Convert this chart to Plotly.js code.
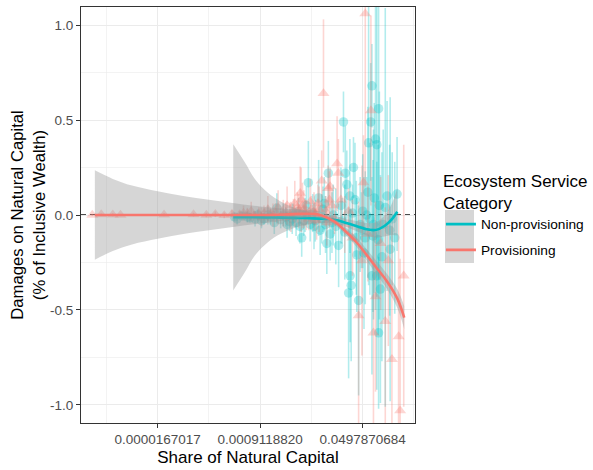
<!DOCTYPE html>
<html><head><meta charset="utf-8">
<script src="https://cdn.plot.ly/plotly-3.0.1.min.js"></script>
<style>html,body{margin:0;padding:0;background:#fff}#chart{width:593px;height:470px}</style>
</head><body><div id="chart"></div>
<script>
// x values are ln(share of natural capital)
var xTickVals = [-11, -7, -3];
var xTickText = ['0.0000167017', '0.0009118820', '0.0497870684'];
var yTickVals = [-1, -0.5, 0, 0.5, 1];
var yTickText = ['-1.0', '-0.5', '0.0', '0.5', '1.0'];
var seriesNames = ['Non-provisioning', 'Provisioning'];

// Non-provisioning observations
var xN = [-8.0,-7.9,-7.7,-7.5,-7.4,-7.2,-7.1,-6.95,-6.85,-6.7,-6.6,-6.45,-6.35,-6.2,-6.1,-6.0,-5.95,-5.85,-5.75,-5.7,-5.6,-5.5,-5.45,-5.38,-5.3,-5.25,-5.2,-5.12,-5.05,-4.95,-4.9,-4.85,-4.72,-4.66,-4.6,-4.55,-4.5,-4.45,-4.4,-4.34,-4.27,-4.2,-4.15,-4.05,-3.94,-3.85,-3.8,-3.75,-3.7,-3.68,-3.62,-3.55,-3.5,-3.49,-3.45,-3.4,-3.36,-3.3,-3.25,-3.23,-3.16,-3.1,-3.05,-3.0,-2.95,-2.9,-2.85,-2.8,-2.77,-2.72,-2.69,-2.64,-2.64,-2.6,-2.58,-2.55,-2.5,-2.45,-2.45,-2.4,-2.38,-2.38,-2.35,-2.31,-2.25,-2.2,-2.12,-2.05,-1.95,-1.93,-1.85,-1.75,-1.66];
var yN = [-0.01,-0.02,-0.005,-0.01,-0.015,-0.02,0.0,-0.03,-0.02,0.0,-0.01,-0.04,0.035,-0.025,0.0,-0.01,-0.05,-0.035,-0.02,0.0,-0.04,0.02,-0.06,-0.12,-0.03,0.0,0.05,0.17,-0.05,0.01,-0.06,-0.03,0.09,-0.08,-0.02,0.03,0.06,-0.05,-0.15,0.22,-0.1,-0.04,0.0,-0.06,-0.16,0.05,-0.03,0.49,-0.09,0.22,0.16,-0.41,0.1,-0.32,-0.37,0.01,0.25,0.08,-0.12,-0.21,-0.45,-0.05,-0.08,0.02,-0.2,-0.12,0.0,0.12,0.38,-0.02,0.49,0.68,-0.32,-0.11,-0.05,0.09,0.4,0.37,-0.32,-0.13,0.56,-0.62,0.05,-0.39,-0.22,-0.05,0.04,0.1,-0.08,-0.18,-0.02,-0.12,0.11];
var eN = [0.02,0.03,0.02,0.03,0.025,0.04,0.03,0.04,0.03,0.05,0.04,0.06,0.08,0.045,0.06,0.05,0.07,0.05,0.08,0.06,0.07,0.07,0.09,0.1,0.08,0.09,0.1,0.22,0.09,0.1,0.12,0.11,0.2,0.13,0.13,0.12,0.14,0.15,0.16,0.17,0.14,0.16,0.16,0.2,0.22,0.2,0.12,0.16,0.25,0.25,0.18,0.45,0.3,0.35,0.4,0.15,0.16,0.3,0.3,0.3,0.5,0.25,0.2,0.3,0.4,0.35,0.2,0.45,0.75,0.4,0.31,0.22,0.52,0.4,0.5,0.5,0.9,0.8,0.6,0.5,0.9,0.4,0.6,0.6,0.55,0.5,1.05,0.5,0.45,0.8,0.35,0.4,0.3];

// Provisioning observations
var xP = [-13.55,-13.2,-12.75,-12.45,-10.75,-9.6,-9.1,-8.75,-8.4,-8.1,-7.8,-7.65,-7.5,-7.35,-7.25,-7.05,-6.95,-6.85,-6.7,-6.6,-6.5,-6.4,-6.3,-6.2,-6.1,-6.0,-5.95,-5.85,-5.8,-5.7,-5.65,-5.55,-5.5,-5.44,-5.4,-5.35,-5.3,-5.25,-5.2,-5.1,-5.05,-5.0,-4.9,-4.85,-4.8,-4.75,-4.7,-4.6,-4.53,-4.45,-4.4,-4.35,-4.3,-4.27,-4.2,-4.1,-4.0,-3.95,-3.85,-3.7,-3.55,-3.4,-3.16,-3.03,-2.97,-2.9,-2.8,-2.68,-2.58,-2.5,-2.3,-2.12,-2.0,-1.86,-1.6,-1.54,-1.4];
var yP = [0.0,0.002,0.001,0.0,0.001,0.002,0.0,0.004,-0.002,0.005,0.002,0.01,0.008,0.02,-0.004,0.006,-0.01,0.01,0.03,0.002,0.0,0.012,0.04,-0.006,0.01,0.015,0.05,0.005,-0.01,0.025,0.06,0.04,0.02,0.115,0.08,0.05,0.03,0.012,0.0,-0.02,0.07,0.03,0.02,0.0,-0.03,0.06,0.03,0.18,0.64,0.02,-0.04,0.14,0.08,0.15,0.05,-0.02,0.27,0.22,0.08,-0.05,0.02,-0.12,-0.53,-0.24,0.17,1.06,-0.1,0.55,-0.62,-0.43,-0.15,-0.56,-0.24,-0.76,-0.64,-1.03,-0.32];
var eP = [0.006,0.006,0.008,0.006,0.008,0.01,0.012,0.015,0.015,0.02,0.02,0.04,0.03,0.05,0.025,0.035,0.05,0.04,0.07,0.03,0.06,0.05,0.09,0.04,0.07,0.05,0.1,0.06,0.08,0.06,0.12,0.08,0.09,0.14,0.17,0.12,0.1,0.07,0.08,0.06,0.12,0.07,0.1,0.05,0.1,0.1,0.12,0.16,0.39,0.08,0.12,0.12,0.15,0.1,0.09,0.08,0.25,0.18,0.12,0.15,0.12,0.2,0.6,0.5,0.25,0.91,0.25,0.5,0.55,0.5,0.35,0.6,0.45,0.7,0.65,0.8,0.69];

// Smoothed fits (loess) with standard-error half widths
var sxN = [-8.05,-7.6,-7.2,-6.7,-6.2,-5.7,-5.2,-4.5,-4.0,-3.6,-3.2,-2.85,-2.5,-2.15,-1.85,-1.65];
var syN = [-0.012,-0.012,-0.012,-0.013,-0.014,-0.015,-0.016,-0.02,-0.028,-0.044,-0.06,-0.075,-0.079,-0.058,-0.02,0.017];
var seN = [0.385,0.29,0.2,0.13,0.085,0.055,0.035,0.022,0.02,0.022,0.027,0.033,0.04,0.055,0.085,0.125];

var sxP = [-13.45,-12.75,-12.0,-11.0,-10.0,-9.0,-8.0,-7.0,-6.0,-5.4,-4.9,-4.6,-4.1,-3.6,-3.2,-2.85,-2.45,-2.05,-1.65,-1.38];
var syP = [0,0,0,0,0,0,0,0,0.003,0.006,0.006,-0.003,-0.035,-0.095,-0.15,-0.21,-0.28,-0.35,-0.44,-0.54];
var seP = [0.235,0.19,0.155,0.125,0.1,0.08,0.062,0.045,0.03,0.022,0.018,0.018,0.018,0.02,0.025,0.03,0.035,0.04,0.05,0.06];

var colN = '#00BFC4', colP = '#F8766D';
var colNa = 'rgba(0,191,196,0.3)', colPa = 'rgba(248,118,109,0.3)';
var ribbon = 'rgba(153,153,153,0.4)';

function add(a, b, s) { return a.map(function (v, i) { return v + s * b[i]; }); }

var traces = [
  {x: xN, y: yN, type: 'scatter', mode: 'markers', showlegend: false, hoverinfo: 'skip',
   marker: {symbol: 'circle', size: 9.5, color: colNa, line: {width: 0}},
   error_y: {type: 'data', array: eN, visible: true, color: colNa, thickness: 1.6, width: 0}},
  {x: xP, y: yP, type: 'scatter', mode: 'markers', showlegend: false, hoverinfo: 'skip',
   marker: {symbol: 'triangle-up', size: 10.5, color: colPa, line: {width: 0}},
   error_y: {type: 'data', array: eP, visible: true, color: colPa, thickness: 1.6, width: 0}},
  {x: sxN, y: add(syN, seN, 1), type: 'scatter', mode: 'lines', showlegend: false, hoverinfo: 'skip',
   line: {width: 0, shape: 'spline'}},
  {x: sxN, y: add(syN, seN, -1), type: 'scatter', mode: 'lines', showlegend: false, hoverinfo: 'skip',
   line: {width: 0, shape: 'spline'}, fill: 'tonexty', fillcolor: ribbon},
  {x: sxN, y: syN, type: 'scatter', mode: 'lines', name: seriesNames[0], legendgroup: 'a',
   line: {color: colN, width: 2.6, shape: 'spline'}},
  {x: sxP, y: add(syP, seP, 1), type: 'scatter', mode: 'lines', showlegend: false, hoverinfo: 'skip',
   line: {width: 0, shape: 'spline'}},
  {x: sxP, y: add(syP, seP, -1), type: 'scatter', mode: 'lines', showlegend: false, hoverinfo: 'skip',
   line: {width: 0, shape: 'spline'}, fill: 'tonexty', fillcolor: ribbon},
  {x: sxP, y: syP, type: 'scatter', mode: 'lines', name: seriesNames[1], legendgroup: 'b',
   line: {color: colP, width: 2.6, shape: 'spline'}}
];

var font = 'Liberation Sans, Arial, sans-serif';
var layout = {
  width: 593, height: 470,
  margin: {l: 81, r: 178, t: 7, b: 47, autoexpand: false},
  paper_bgcolor: '#fff', plot_bgcolor: '#fff',
  font: {family: font, color: '#000'},
  xaxis: {
    range: [-13.99, -0.96], tickmode: 'array', tickvals: xTickVals, ticktext: xTickText,
    showgrid: true, gridcolor: '#EBEBEB', gridwidth: 1, zeroline: false,
    minor: {tickmode: 'array', tickvals: [-13, -9, -5, -1], showgrid: true, gridcolor: '#EBEBEB', gridwidth: 0.6, ticks: ''},
    showline: true, mirror: true, linecolor: '#333333', linewidth: 1,
    ticks: 'outside', ticklen: 4, tickcolor: '#333333', tickwidth: 1,
    tickfont: {size: 13.5, color: '#4D4D4D'},
    title: {text: 'Share of Natural Capital', font: {size: 17, color: '#000'}, standoff: 4}
  },
  yaxis: {
    range: [-1.095, 1.095], tickmode: 'array', tickvals: yTickVals, ticktext: yTickText,
    showgrid: true, gridcolor: '#EBEBEB', gridwidth: 1, zeroline: false,
    minor: {tickmode: 'array', tickvals: [-0.75, -0.25, 0.25, 0.75], showgrid: true, gridcolor: '#EBEBEB', gridwidth: 0.6, ticks: ''},
    showline: true, mirror: true, linecolor: '#333333', linewidth: 1,
    ticks: 'outside', ticklen: 4, tickcolor: '#333333', tickwidth: 1,
    tickfont: {size: 13.5, color: '#4D4D4D'},
    title: {text: 'Damages on Natural Capital<br>(% of Inclusive Wealth)', font: {size: 16.7, color: '#000'}, standoff: 0}
  },
  shapes: [
    {type: 'line', xref: 'paper', yref: 'y', x0: 0, x1: 1, y0: 0, y1: 0, layer: 'below',
     line: {color: '#111', width: 1.4, dash: '5px,4px'}},
    {type: 'rect', xref: 'paper', yref: 'paper', x0: 1.0898, x1: 1.1766, y0: 0.3846, y1: 0.512,
     fillcolor: '#D6D6D6', line: {width: 0}, layer: 'below'}
  ],
  legend: {
    xref: 'container', yref: 'container',
    x: 0.7436, y: 0.65, xanchor: 'left', yanchor: 'top',
    traceorder: 'grouped', tracegroupgap: 5,
    font: {size: 13.7, color: '#000'},
    title: {text: 'Ecosystem Service<br>Category', font: {size: 17, color: '#000'}},
    bgcolor: 'rgba(0,0,0,0)'
  },
  showlegend: true
};

Plotly.newPlot('chart', traces, layout, {displayModeBar: false, staticPlot: true});
</script></body></html>
